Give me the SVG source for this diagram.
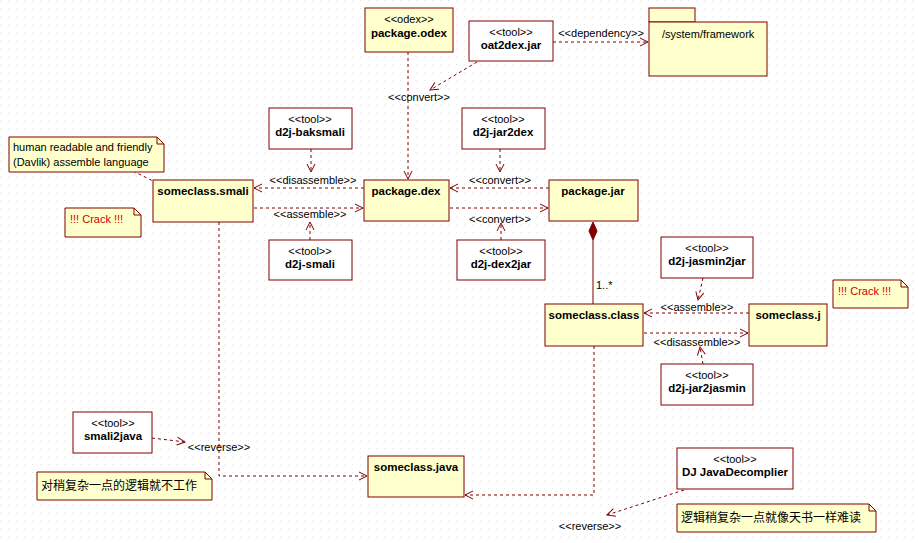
<svg xmlns="http://www.w3.org/2000/svg" width="918" height="543" viewBox="0 0 918 543">
<style>
.box{fill:#ffffcc;stroke:#800000;stroke-width:1}
.tool{fill:#ffffff;stroke:#800000;stroke-width:1}
.note{fill:#ffffcc;stroke:#800000;stroke-width:1}
.t{font-family:"Liberation Sans",Arial,sans-serif;font-size:11px;fill:#000}
.b{font-family:"Liberation Sans",Arial,sans-serif;font-size:11.5px;font-weight:bold;fill:#000}
.c{text-anchor:middle}
.red{fill:#cc0000}
.cjk{font-family:"Liberation Sans","Noto Sans CJK SC",sans-serif;font-size:12px;fill:#000}
.dash{fill:none;stroke:#800000;stroke-width:1;stroke-dasharray:3,3}
.solid{fill:none;stroke:#800000;stroke-width:1}
</style>
<defs>
<pattern id="grid" width="8" height="8" patternUnits="userSpaceOnUse">
<rect x="0" y="0" width="1" height="1" fill="#e4e4e4"/>
</pattern>
<marker id="open" markerWidth="12" markerHeight="12" refX="9" refY="5" orient="auto" markerUnits="userSpaceOnUse">
<path d="M1,1 L9,5 L1,9" fill="none" stroke="#800000" stroke-width="1"/>
</marker>
</defs>
<rect width="918" height="543" fill="#ffffff"/>
<rect width="918" height="543" fill="url(#grid)"/>

<g id="connectors">
<path class="dash" d="M408,52 L408,179" marker-end="url(#open)"/>
<path class="dash" d="M477,62 L430,90" marker-end="url(#open)"/>
<path class="dash" d="M553,42 L648,42" marker-end="url(#open)"/>
<path class="dash" d="M133,171 L153,181"/>
<path class="dash" d="M364,188 L254,188" marker-end="url(#open)"/>
<path class="dash" d="M254,208 L363,208" marker-end="url(#open)"/>
<path class="dash" d="M311,149 L311,172" marker-end="url(#open)"/>
<path class="dash" d="M310,240 L310,222" marker-end="url(#open)"/>
<path class="dash" d="M549,188 L450,188" marker-end="url(#open)"/>
<path class="dash" d="M450,208 L548,208" marker-end="url(#open)"/>
<path class="dash" d="M500,149 L500,172" marker-end="url(#open)"/>
<path class="dash" d="M501,240 L501,223" marker-end="url(#open)"/>
<path class="solid" d="M593,240 L593,304"/>
<path d="M593,222 L597,231 L593,240 L589,231 Z" fill="#800000" stroke="#800000" stroke-width="1"/>
<path class="dash" d="M749,313 L644,313" marker-end="url(#open)"/>
<path class="dash" d="M644,333 L748,333" marker-end="url(#open)"/>
<path class="dash" d="M703,278 L698,300" marker-end="url(#open)"/>
<path class="dash" d="M703,364 L700,347" marker-end="url(#open)"/>
<path class="dash" d="M594,346 L594,495 L465,495" marker-end="url(#open)"/>
<path class="dash" d="M219,222 L219,476 L367,476" marker-end="url(#open)"/>
<path class="dash" d="M152,438 L185,442" marker-end="url(#open)"/>
<path class="dash" d="M684,490 L607,515" marker-end="url(#open)"/>
<text class="t c" x="601" y="37">&lt;&lt;dependency&gt;&gt;</text>
<text class="t c" x="419" y="101">&lt;&lt;convert&gt;&gt;</text>
<text class="t c" x="313" y="184">&lt;&lt;disassemble&gt;&gt;</text>
<text class="t c" x="310" y="218">&lt;&lt;assemble&gt;&gt;</text>
<text class="t c" x="500" y="184">&lt;&lt;convert&gt;&gt;</text>
<text class="t c" x="500" y="223">&lt;&lt;convert&gt;&gt;</text>
<text class="t" x="596" y="289">1..*</text>
<text class="t c" x="697" y="311">&lt;&lt;assemble&gt;&gt;</text>
<text class="t c" x="697" y="346">&lt;&lt;disassemble&gt;&gt;</text>
<text class="t c" x="219" y="451">&lt;&lt;reverse&gt;&gt;</text>
<text class="t c" x="590" y="530">&lt;&lt;reverse&gt;&gt;</text>
</g>

<g id="package-odex">
<rect class="box" x="365" y="8" width="88" height="44"/>
<text class="t c" x="409" y="23">&lt;&lt;odex&gt;&gt;</text>
<text class="b c" x="409" y="37">package.odex</text>
</g>
<g id="oat2dex">
<rect class="tool" x="469" y="21" width="84" height="40"/>
<text class="t c" x="511" y="36">&lt;&lt;tool&gt;&gt;</text>
<text class="b c" x="511" y="49">oat2dex.jar</text>
</g>
<g id="framework">
<rect class="box" x="649" y="8" width="46" height="14"/>
<rect class="box" x="649" y="22" width="118" height="54"/>
<text class="t" x="662" y="38">/system/framework</text>
</g>
<g id="note-human">
<path class="note" d="M9,137 L157,137 L164,144 L164,172 L9,172 Z"/>
<path class="solid" d="M157,137 L157,144 L164,144"/>
<text class="t" x="13" y="151">human readable and friendly</text>
<text class="t" x="13" y="166">(Davlik) assemble language</text>
</g>
<g id="someclass-smali">
<rect class="box" x="153" y="180" width="100" height="42"/>
<text class="b c" x="203" y="195">someclass.smali</text>
</g>
<g id="note-crack1">
<path class="note" d="M65,208 L134,208 L141,215 L141,237 L65,237 Z"/>
<path class="solid" d="M134,208 L134,215 L141,215"/>
<text class="t red" x="70" y="223">!!! Crack !!!</text>
</g>
<g id="d2j-baksmali">
<rect class="tool" x="269" y="108" width="83" height="41"/>
<text class="t c" x="310" y="123">&lt;&lt;tool&gt;&gt;</text>
<text class="b c" x="310" y="136">d2j-baksmali</text>
</g>
<g id="d2j-smali">
<rect class="tool" x="269" y="240" width="83" height="40"/>
<text class="t c" x="310" y="255">&lt;&lt;tool&gt;&gt;</text>
<text class="b c" x="310" y="268">d2j-smali</text>
</g>
<g id="package-dex">
<rect class="box" x="364" y="180" width="85" height="41"/>
<text class="b c" x="406" y="195">package.dex</text>
</g>
<g id="package-jar">
<rect class="box" x="549" y="180" width="89" height="41"/>
<text class="b c" x="593" y="195">package.jar</text>
</g>
<g id="d2j-jar2dex">
<rect class="tool" x="462" y="108" width="83" height="41"/>
<text class="t c" x="503" y="123">&lt;&lt;tool&gt;&gt;</text>
<text class="b c" x="503" y="136">d2j-jar2dex</text>
</g>
<g id="d2j-dex2jar">
<rect class="tool" x="457" y="240" width="88" height="40"/>
<text class="t c" x="501" y="255">&lt;&lt;tool&gt;&gt;</text>
<text class="b c" x="501" y="268">d2j-dex2jar</text>
</g>
<g id="someclass-class">
<rect class="box" x="545" y="304" width="98" height="42"/>
<text class="b c" x="594" y="319">someclass.class</text>
</g>
<g id="someclass-j">
<rect class="box" x="749" y="304" width="78" height="42"/>
<text class="b c" x="788" y="319">someclass.j</text>
</g>
<g id="d2j-jasmin2jar">
<rect class="tool" x="661" y="237" width="92" height="41"/>
<text class="t c" x="707" y="252">&lt;&lt;tool&gt;&gt;</text>
<text class="b c" x="707" y="265">d2j-jasmin2jar</text>
</g>
<g id="d2j-jar2jasmin">
<rect class="tool" x="661" y="364" width="92" height="41"/>
<text class="t c" x="707" y="379">&lt;&lt;tool&gt;&gt;</text>
<text class="b c" x="707" y="392">d2j-jar2jasmin</text>
</g>
<g id="note-crack2">
<path class="note" d="M833,280 L901,280 L908,287 L908,308 L833,308 Z"/>
<path class="solid" d="M901,280 L901,287 L908,287"/>
<text class="t red" x="838" y="295">!!! Crack !!!</text>
</g>
<g id="someclass-java">
<rect class="box" x="368" y="456" width="96" height="41"/>
<text class="b c" x="416" y="471">someclass.java</text>
</g>
<g id="smali2java">
<rect class="tool" x="73" y="412" width="79" height="41"/>
<text class="t c" x="113" y="427">&lt;&lt;tool&gt;&gt;</text>
<text class="b c" x="113" y="440">smali2java</text>
</g>
<g id="note-cn1">
<path class="note" d="M37,472 L205,472 L212,479 L212,500 L37,500 Z"/>
<path class="solid" d="M205,472 L205,479 L212,479"/>
<text class="cjk" x="41" y="490">对稍复杂一点的逻辑就不工作</text>
</g>
<g id="dj-decompiler">
<rect class="tool" x="677" y="448" width="116" height="41"/>
<text class="t c" x="735" y="463">&lt;&lt;tool&gt;&gt;</text>
<text class="b c" x="735" y="476">DJ JavaDecomplier</text>
</g>
<g id="note-cn2">
<path class="note" d="M677,504 L869,504 L876,511 L876,532 L677,532 Z"/>
<path class="solid" d="M869,504 L869,511 L876,511"/>
<text class="cjk" x="681" y="522">逻辑稍复杂一点就像天书一样难读</text>
</g>
</svg>
